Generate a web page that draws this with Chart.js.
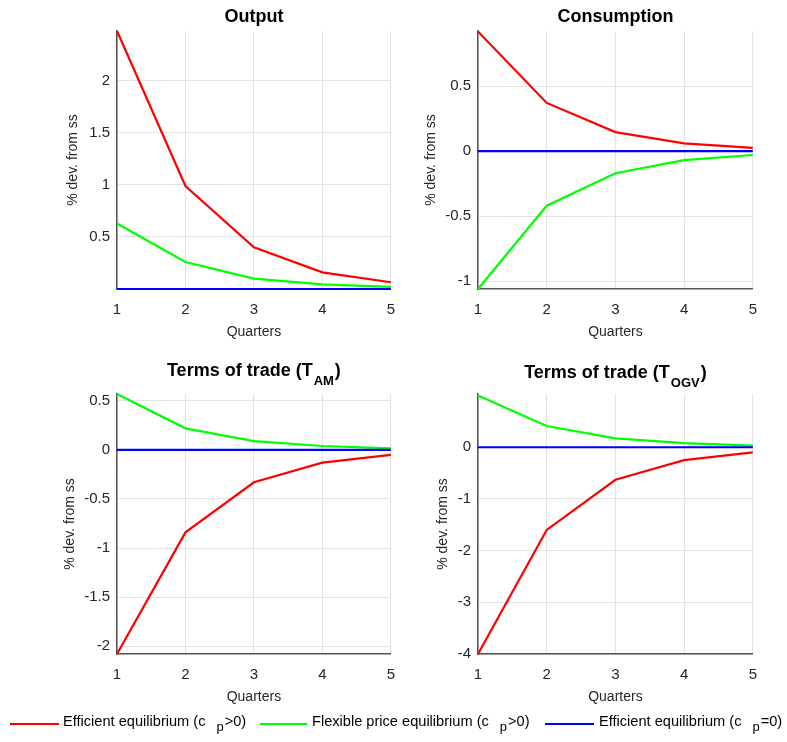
<!DOCTYPE html>
<html>
<head>
<meta charset="utf-8">
<script src="https://cdn.jsdelivr.net/npm/chart.js@4.4.1/dist/chart.umd.min.js"></script>
<style>
  body { margin: 0; background: #fff; }
  #wrap { position: relative; width: 787px; height: 742px; overflow: hidden; font-family: "Liberation Sans", Arial, sans-serif; }
  #wrap canvas { position: absolute; }
  #legend { position: absolute; left: 0; top: 712px; width: 787px; height: 28px; font-size: 14.6px; color: #000; }
  .sw { position: absolute; top: 11px; height: 2px; }
  .txt { position: absolute; top: 1px; white-space: nowrap; }
  .txt sub { font-size: 13px; position: relative; top: 5px; vertical-align: baseline; margin-left: 11px; margin-right: 1px; }
</style>
</head>
<body>
<div id="wrap">
  <canvas id="c1"></canvas>
  <canvas id="c2"></canvas>
  <canvas id="c3"></canvas>
  <canvas id="c4"></canvas>
  <div id="legend">
    <div class="sw" style="left:10px;width:49px;background:#ff0000"></div>
    <div class="txt" style="left:63px">Efficient equilibrium (c<sub>p</sub>&gt;0)</div>
    <div class="sw" style="left:260px;width:47px;background:#00ff00"></div>
    <div class="txt" style="left:312px">Flexible price equilibrium (c<sub>p</sub>&gt;0)</div>
    <div class="sw" style="left:545px;width:49px;background:#0000ff"></div>
    <div class="txt" style="left:599px">Efficient equilibrium (c<sub>p</sub>=0)</div>
  </div>
</div>
<script>
// quarters after the shock
const quarters = [1, 2, 3, 4, 5];

// Output
const outputEff = [2.48, 0.99, 0.40, 0.16, 0.065];
const outputFlex = [0.63, 0.26, 0.10, 0.045, 0.02];
const outputEffZero = [0, 0, 0, 0, 0];
const outputTicks = [0.5, 1, 1.5, 2];
const outputRange = [0, 2.48];

// Consumption
const consEff = [0.92, 0.37, 0.146, 0.06, 0.025];
const consFlex = [-1.06, -0.42, -0.17, -0.07, -0.03];
const consEffZero = [0, 0, 0, 0, 0];
const consTicks = [-1, -0.5, 0, 0.5];
const consRange = [-1.06, 0.923];

// Terms of trade (T_AM)
const totAmEff = [-2.08, -0.84, -0.33, -0.13, -0.05];
const totAmFlex = [0.57, 0.22, 0.09, 0.04, 0.015];
const totAmEffZero = [0, 0, 0, 0, 0];
const totAmTicks = [-2, -1.5, -1, -0.5, 0, 0.5];
const totAmRange = [-2.08, 0.57];

// Terms of trade (T_OGV)
const totOgvEff = [-4.0, -1.6, -0.63, -0.25, -0.1];
const totOgvFlex = [1.0, 0.41, 0.17, 0.08, 0.03];
const totOgvEffZero = [0, 0, 0, 0, 0];
const totOgvTicks = [-4, -3, -2, -1, 0];
const totOgvRange = [-4.0, 1.03];

const xTicks = [1, 2, 3, 4, 5];
const yLabel = '% dev. from ss';
const xLabel = 'Quarters';

const RED = '#ff0000', GREEN = '#00ff00', BLUE = '#0000ff';
const INK = '#262626';

// title drawn centred over the plot area, with optional subscript
const panelTitle = {
  id: 'panelTitle',
  afterDraw(chart, args, opts) {
    const ctx = chart.ctx;
    const area = chart.chartArea;
    const mainFont = 'bold 18px "Liberation Sans", Arial, sans-serif';
    const subFont = 'bold 13px "Liberation Sans", Arial, sans-serif';
    ctx.save();
    let total = 0;
    opts.parts.forEach(p => {
      ctx.font = p.sub ? subFont : mainFont;
      total += ctx.measureText(p.text).width + (p.sub ? 2 : 0);
    });
    let x = (area.left + area.right) / 2 - total / 2;
    ctx.fillStyle = '#000';
    ctx.textBaseline = 'middle';
    ctx.textAlign = 'left';
    opts.parts.forEach(p => {
      ctx.font = p.sub ? subFont : mainFont;
      const y = opts.y + (p.sub ? 10 : 0);
      ctx.fillText(p.text, x + (p.sub ? 1 : 0), y);
      x += ctx.measureText(p.text).width + (p.sub ? 2 : 0);
    });
    ctx.restore();
  }
};

function line(values, color, order) {
  return {
    data: quarters.map((q, i) => ({ x: q, y: values[i] })),
    borderColor: color,
    backgroundColor: color,
    borderWidth: 2.2,
    pointRadius: 0,
    pointHoverRadius: 0,
    pointBorderWidth: 0,
    tension: 0,
    clip: false,
    order: order
  };
}

function makePanel(id, g, series, range, ticks, titleParts) {
  // the layout keeps ~16px free on the right whatever the padding
  const cw = g.R - g.x0 + 16;
  const ch = g.B - g.y0 + 60;
  const padLeft = g.titleX - g.x0 - 8.4;
  const padBottom = 8.6;
  const el = document.getElementById(id);
  el.style.left = g.x0 + 'px';
  el.style.top = g.y0 + 'px';
  el.style.width = cw + 'px';
  el.style.height = ch + 'px';
  el.width = cw;
  el.height = ch;

  new Chart(el.getContext('2d'), {
    type: 'line',
    data: {
      datasets: [
        line(series[0], RED, 3),
        line(series[1], GREEN, 2),
        line(series[2], BLUE, 1)
      ]
    },
    options: {
      responsive: false,
      animation: false,
      layout: {
        padding: { left: padLeft, top: g.T - g.y0, right: 8, bottom: padBottom }
      },
      plugins: {
        legend: { display: false },
        tooltip: { enabled: false },
        panelTitle: { parts: titleParts, y: g.titleY - g.y0 }
      },
      scales: {
        x: {
          type: 'linear',
          min: 1,
          max: 5,
          afterBuildTicks: s => { s.ticks = xTicks.map(v => ({ value: v })); },
          afterFit: s => { s.height = 60 - padBottom; },
          grid: { color: '#e3e3e3', drawTicks: false },
          border: { color: '#555', width: 1.5 },
          ticks: { color: INK, font: { size: 15 }, padding: 12, callback: v => String(v) },
          title: { display: true, text: xLabel, color: INK, font: { size: 14 }, padding: 0 }
        },
        y: {
          min: range[0],
          max: range[1],
          afterBuildTicks: s => { s.ticks = ticks.map(v => ({ value: v })); },
          afterFit: s => { s.width = g.L - g.x0 - padLeft; },
          grid: { color: '#e3e3e3', drawTicks: false },
          border: { color: '#555', width: 1.5 },
          ticks: { color: INK, font: { size: 15 }, padding: 7, callback: v => String(v) },
          title: { display: true, text: yLabel, color: INK, font: { size: 14 }, padding: 0 }
        }
      }
    },
    plugins: [panelTitle]
  });
}

Chart.defaults.font.family = '"Liberation Sans", Arial, sans-serif';

makePanel('c1', { x0: 0, y0: 0, L: 117, T: 31, R: 391, B: 289, titleX: 73, titleY: 17 },
  [outputEff, outputFlex, outputEffZero], outputRange, outputTicks,
  [{ text: 'Output' }]);

makePanel('c2', { x0: 400, y0: 0, L: 478, T: 31, R: 753, B: 289, titleX: 431, titleY: 17 },
  [consEff, consFlex, consEffZero], consRange, consTicks,
  [{ text: 'Consumption' }]);

makePanel('c3', { x0: 0, y0: 350, L: 117, T: 394, R: 391, B: 654, titleX: 70, titleY: 371 },
  [totAmEff, totAmFlex, totAmEffZero], totAmRange, totAmTicks,
  [{ text: 'Terms of trade (T' }, { text: 'AM', sub: true }, { text: ')' }]);

makePanel('c4', { x0: 400, y0: 350, L: 478, T: 394, R: 753, B: 654, titleX: 443, titleY: 373 },
  [totOgvEff, totOgvFlex, totOgvEffZero], totOgvRange, totOgvTicks,
  [{ text: 'Terms of trade (T' }, { text: 'OGV', sub: true }, { text: ')' }]);
</script>
</body>
</html>
